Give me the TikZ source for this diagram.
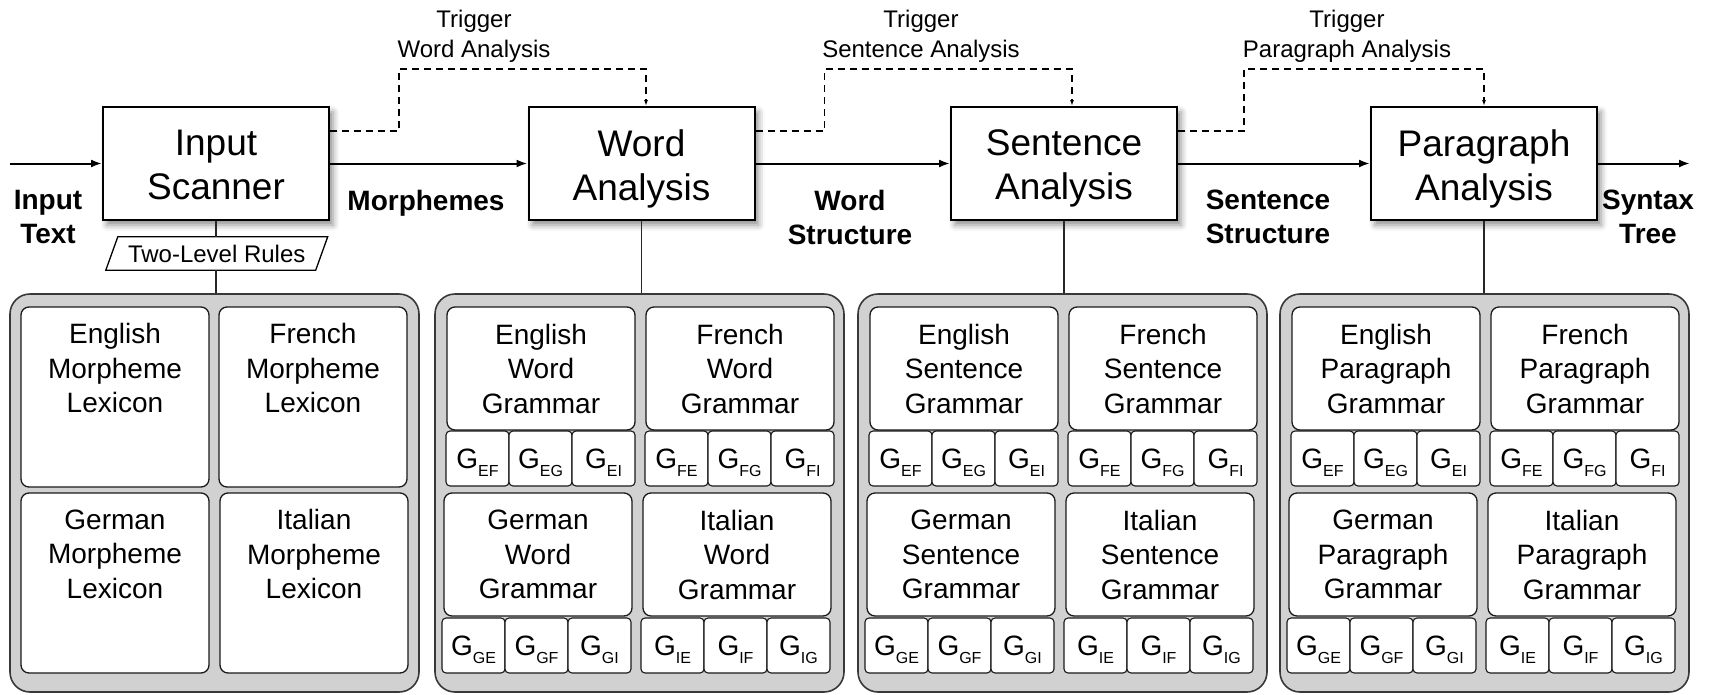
\documentclass[tikz,border=0pt]{standalone}
\usepackage{fontspec}
\setmainfont{Liberation Sans}
\usetikzlibrary{arrows.meta,shadows.blur,calc}

% G with a lowered language-pair index
\newcommand\Gsub[1]{G\raisebox{-8pt}{\fontsize{16}{16}\selectfont #1}}

\tikzset{
  stage/.style={draw=black, line width=2pt, fill=white, minimum width=226pt,
    minimum height=113pt, inner sep=0pt,
    blur shadow={shadow xshift=4pt, shadow yshift=-5pt,
      shadow blur radius=6pt, shadow opacity=45}},
  stagetext/.style={anchor=north, yshift=-23.5pt, inner sep=0pt, align=center,
    font=\fontsize{37}{44}\selectfont},
  flowlabel/.style={anchor=north, align=center, inner sep=0pt,
    font=\bfseries\fontsize{28}{34}\selectfont},
  triglabel/.style={anchor=north, align=center, inner sep=0pt,
    font=\fontsize{24}{30}\selectfont},
  flow/.style={line width=2pt, -{Latex[length=11pt,width=8pt]}},
  trig/.style={line width=1.3pt, dash pattern=on 7pt off 5pt,
    -{Latex[length=6pt,width=4pt]}},
  link/.style={line width=1.2pt, draw=black!85},
  panel/.style={draw=black!78, line width=1.6pt, fill=black!18,
    rounded corners=20pt, minimum width=409pt, minimum height=398pt,
    inner sep=0pt},
  gbox/.style={draw=black!90, line width=1.3pt, fill=white,
    rounded corners=8pt, minimum width=188pt, minimum height=123pt,
    inner sep=0pt, align=center, font=\fontsize{28}{34.5}\selectfont},
  lexbox/.style={draw=black!90, line width=1.3pt, fill=white,
    rounded corners=8pt, minimum width=188pt, minimum height=180pt,
    inner sep=0pt},
  lextext/.style={anchor=north, yshift=-17pt, inner sep=0pt, align=center,
    font=\fontsize{28}{34.5}\selectfont},
  gcell/.style={draw=black!90, line width=1.1pt, fill=white,
    rounded corners=4pt, minimum width=63pt, minimum height=55pt,
    inner sep=0pt, text height=21pt, text depth=2pt,
    font=\fontsize{28}{28}\selectfont},
  rulesbox/.style={draw=black, line width=1.3pt},
}

% three G cells side by side
\newcommand\cellrow[6]{%
  \node[gcell] (#1-1) at (#2,#3) {\Gsub{#4}};
  \node[gcell] (#1-2) at (#2+63,#3) {\Gsub{#5}};
  \node[gcell] (#1-3) at (#2+126,#3) {\Gsub{#6}};
}

% grey panel with four grammars and their transfer cells
\newcommand\grampanel[3]{%
  \node[panel] (#1) at (#2+204.5,493) {};
  \node[gbox] (#1-en) at (#2+106,368.5) {English\\#3\\Grammar};
  \node[gbox] (#1-fr) at (#2+305,368.5) {French\\#3\\Grammar};
  \node[gbox] (#1-de) at (#2+103,554.5) {German\\#3\\Grammar};
  \node[gbox] (#1-it) at (#2+302,554.5) {Italian\\#3\\Grammar};
  \cellrow{#1-en}{#2+42.5}{458.5}{EF}{EG}{EI}
  \cellrow{#1-fr}{#2+241.5}{458.5}{FE}{FG}{FI}
  \cellrow{#1-de}{#2+38.5}{645.5}{GE}{GF}{GI}
  \cellrow{#1-it}{#2+237.5}{645.5}{IE}{IF}{IG}
}

\begin{document}
\begin{tikzpicture}[x=1pt, y=-1pt]
\useasboundingbox (0,0) rectangle (1709,694);

% processing stages
\node[stage] (scan) at (216,163.5) {};
\node[stage] (wa)   at (641.5,163.5) {};
\node[stage] (sa)   at (1064,163.5) {};
\node[stage] (pa)   at (1484,163.5) {};
\node[stagetext] (scant) at (scan.north) {Input\\Scanner};
\node[stagetext] (wat)   at (wa.north) {Word\\Analysis};
\node[stagetext] (sat)   at (sa.north) {Sentence\\Analysis};
\node[stagetext] (pat)   at (pa.north) {Paragraph\\Analysis};

% main data flow
\coordinate (in)  at (10,163.5);
\coordinate (out) at (1690,163.5);
\draw[flow] (in) -- (scan.west);
\draw[flow] (scan.east) -- (wa.west);
\draw[flow] (wa.east) -- (sa.west);
\draw[flow] (sa.east) -- (pa.west);
\draw[flow] (pa.east) -- (out);

\node[flowlabel] (lin)  at (48,190)   {Input\\Text};
\node[flowlabel] (lmor) at (426,190)  {Morphemes};
\node[flowlabel] (lws)  at (850,190)  {Word\\Structure};
\node[flowlabel] (lss)  at (1268,190) {Sentence\\Structure};
\node[flowlabel] (lst)  at (1648,190) {Syntax\\Tree};

% trigger signals
\draw[trig] ($(scan.north east)+(0,25)$) -- ++(69,0) |- ($(wa.north)+(4.5,-37)$) -- ($(wa.north)+(4.5,0)$);
\draw[trig] ($(wa.north east)+(0,25)$) -- ++(69,0) |- ($(sa.north)+(8,-37)$) -- ($(sa.north)+(8,0)$);
\draw[trig] ($(sa.north east)+(0,25)$) -- ++(66,0) |- ($(pa.north)+(0,-37)$) -- (pa.north);

\node[triglabel] (t1) at (474,10)  {Trigger\\Word Analysis};
\node[triglabel] (t2) at (921,10)  {Trigger\\Sentence Analysis};
\node[triglabel] (t3) at (1347,10) {Trigger\\Paragraph Analysis};

% morpheme lexicons
\node[panel] (lex) at (214.5,493) {};
\node[lexbox] (lexen) at (115,397) {};
\node[lexbox] (lexfr) at (313,397) {};
\node[lexbox] (lexde) at (115,583) {};
\node[lexbox] (lexit) at (314,583) {};
\node[lextext] (lexent) at (lexen.north) {English\\Morpheme\\Lexicon};
\node[lextext] (lexfrt) at (lexfr.north) {French\\Morpheme\\Lexicon};
\node[lextext] (lexdet) at (lexde.north) {German\\Morpheme\\Lexicon};
\node[lextext] (lexitt) at (lexit.north) {Italian\\Morpheme\\Lexicon};

% grammar panels
\grampanel{wg}{435}{Word}
\grampanel{sg}{858}{Sentence}
\grampanel{pg}{1280}{Paragraph}

% two-level rules between scanner and lexicons
\node[inner sep=0pt, minimum width=209.5pt, minimum height=33pt,
  font=\fontsize{24}{24}\selectfont] (rules) at (216.75,253.5) {Two-Level Rules};
\draw[rulesbox] ([xshift=6pt]rules.north west) -- ([xshift=6pt]rules.north east)
  -- ([xshift=-6pt]rules.south east) -- ([xshift=-6pt]rules.south west) -- cycle;

% stage-to-knowledge links
\draw[link] (scan.south) -- (scan.south |- rules.north);
\draw[link] (scan.south |- rules.south) -- (scan.south |- lex.north);
\draw[link] (wa.south) -- (wa.south |- wg.north);
\draw[link] (sa.south) -- (sa.south |- sg.north);
\draw[link] (pa.south) -- (pa.south |- pg.north);
\end{tikzpicture}
\end{document}
